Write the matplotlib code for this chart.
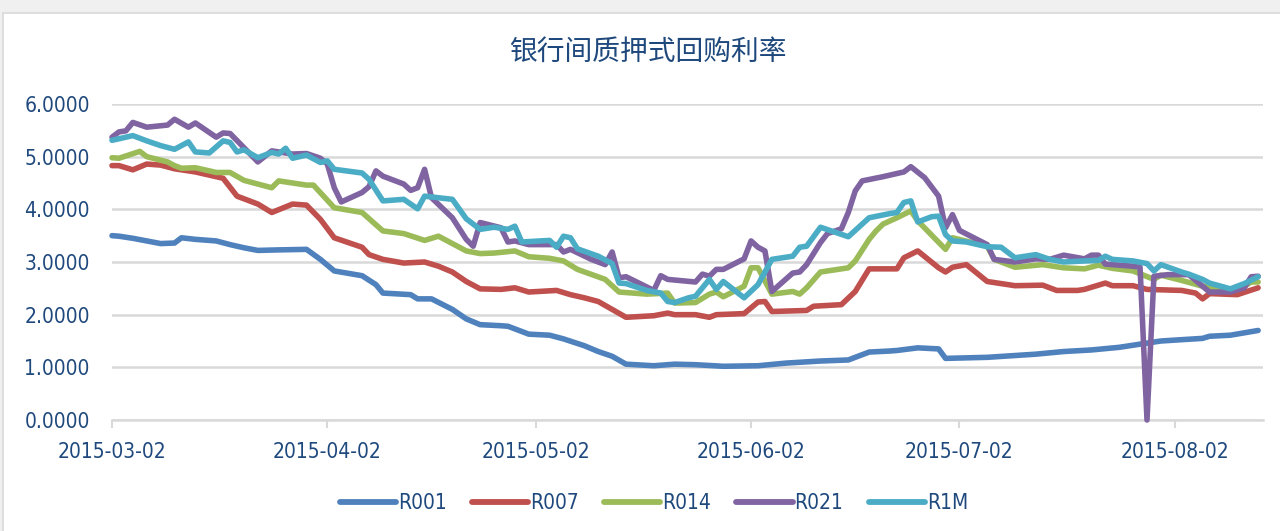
import numpy as np
import pandas as pd
import matplotlib
matplotlib.use("Agg")
import matplotlib.pyplot as plt
import matplotlib.dates as mdates
from matplotlib import font_manager as fm
from matplotlib.patches import Rectangle

# ---------------- data (days counted from 2015-03-02) ----------------
start_date = "2015-03-02"
end_day = 165.7

r001_day = [0, 1, 3, 5, 7, 9, 10, 12, 15, 17, 19, 21, 24, 28, 30, 32, 36, 38, 39, 43, 44, 46,
            49, 51, 53, 56, 57, 58, 60, 63, 65, 68, 70, 72, 74, 78, 81, 84, 88, 93, 97, 102,
            106, 107, 109, 112, 113, 116, 119, 120, 126, 133, 137, 141, 145, 149, 151, 157,
            158, 161, 165]
r001_val = [3.50, 3.49, 3.45, 3.40, 3.35, 3.36, 3.46, 3.43, 3.40, 3.33, 3.27, 3.22, 3.23, 3.24,
            3.05, 2.83, 2.74, 2.57, 2.41, 2.38, 2.30, 2.30, 2.10, 1.92, 1.81, 1.79, 1.78, 1.73,
            1.63, 1.61, 1.54, 1.41, 1.30, 1.21, 1.06, 1.03, 1.06, 1.05, 1.02, 1.03, 1.08, 1.12,
            1.14, 1.19, 1.29, 1.31, 1.32, 1.37, 1.35, 1.17, 1.19, 1.25, 1.30, 1.33, 1.38, 1.46,
            1.50, 1.55, 1.59, 1.61, 1.70]

r007_day = [0, 1, 3, 5, 7, 9, 12, 16, 18, 21, 23, 26, 28, 30, 32, 36, 37, 39, 42, 45, 47, 49,
            51, 53, 56, 58, 60, 64, 66, 68, 70, 72, 74, 78, 80, 81, 84, 86, 87, 91, 93, 94, 95,
            100, 101, 105, 107, 109, 111, 113, 114, 116, 119, 120, 121, 123, 126, 130, 134,
            136, 139, 140, 143, 144, 147, 149, 154, 156, 157, 158, 162, 165]
r007_val = [4.83, 4.83, 4.75, 4.86, 4.84, 4.77, 4.71, 4.59, 4.25, 4.10, 3.94, 4.10, 4.08, 3.81,
            3.46, 3.28, 3.14, 3.05, 2.98, 3.00, 2.92, 2.81, 2.63, 2.49, 2.48, 2.51, 2.43, 2.46,
            2.38, 2.32, 2.25, 2.10, 1.95, 1.98, 2.03, 2.00, 2.00, 1.95, 2.00, 2.02, 2.24, 2.25,
            2.06, 2.08, 2.16, 2.19, 2.44, 2.87, 2.87, 2.87, 3.08, 3.21, 2.89, 2.81, 2.90, 2.95,
            2.63, 2.55, 2.56, 2.46, 2.46, 2.48, 2.60, 2.55, 2.55, 2.48, 2.46, 2.41, 2.30, 2.40,
            2.38, 2.51]

r014_day = [0, 1, 4, 5, 8, 9, 10, 12, 15, 17, 19, 23, 24, 28, 29, 32, 36, 39, 42, 45, 47, 51,
            53, 55, 58, 60, 63, 65, 67, 71, 73, 77, 80, 81, 84, 86, 87, 88, 91, 92, 93, 95, 98,
            99, 100, 102, 106, 107, 109, 110, 111, 113, 115, 116, 120, 121, 126, 127, 130, 134,
            137, 140, 142, 144, 147, 150, 151, 154, 157, 161, 163, 164, 165]
r014_val = [4.98, 4.97, 5.10, 5.00, 4.90, 4.83, 4.78, 4.79, 4.70, 4.70, 4.55, 4.41, 4.54, 4.46,
            4.46, 4.03, 3.94, 3.59, 3.54, 3.41, 3.49, 3.21, 3.16, 3.17, 3.21, 3.10, 3.07, 3.02,
            2.86, 2.67, 2.43, 2.39, 2.41, 2.22, 2.23, 2.39, 2.43, 2.34, 2.54, 2.89, 2.89, 2.39,
            2.44, 2.39, 2.51, 2.81, 2.89, 3.02, 3.43, 3.59, 3.72, 3.84, 3.97, 3.78, 3.24, 3.46,
            3.30, 3.05, 2.90, 2.95, 2.89, 2.87, 2.94, 2.88, 2.83, 2.67, 2.75, 2.65, 2.54, 2.48,
            2.54, 2.62, 2.62]

r021_day = [0, 1, 2, 3, 5, 8, 9, 11, 12, 15, 16, 17, 21, 23, 26, 28, 30, 31, 32, 33, 36, 37,
            38, 39, 42, 43, 44, 45, 46, 49, 51, 52, 53, 56, 57, 58, 60, 64, 65, 66, 69, 71, 72,
            73, 74, 78, 79, 80, 84, 85, 86, 87, 88, 91, 92, 93, 94, 95, 98, 99, 100, 102, 103,
            105, 106, 107, 108, 111, 114, 115, 117, 119, 120, 121, 122, 126, 127, 130, 133,
            135, 137, 140, 141, 142, 143, 147, 148, 149, 150, 152, 155, 157, 158, 161, 163,
            164, 165]
r021_val = [5.37, 5.47, 5.49, 5.65, 5.56, 5.60, 5.71, 5.56, 5.64, 5.37, 5.45, 5.44, 4.90, 5.11,
            5.05, 5.06, 4.97, 4.86, 4.41, 4.14, 4.32, 4.43, 4.73, 4.63, 4.48, 4.36, 4.41, 4.76,
            4.22, 3.84, 3.43, 3.30, 3.75, 3.65, 3.38, 3.40, 3.33, 3.33, 3.19, 3.24, 3.05, 2.95,
            3.19, 2.70, 2.72, 2.46, 2.74, 2.67, 2.62, 2.77, 2.73, 2.86, 2.86, 3.06, 3.40, 3.28,
            3.21, 2.44, 2.79, 2.81, 2.95, 3.37, 3.54, 3.63, 3.94, 4.35, 4.54, 4.62, 4.71, 4.81,
            4.60, 4.25, 3.65, 3.90, 3.60, 3.33, 3.05, 3.00, 3.06, 3.05, 3.13, 3.06, 3.13, 3.13,
            2.96, 2.92, 2.90, 0.00, 2.73, 2.76, 2.76, 2.54, 2.43, 2.43, 2.51, 2.72, 2.73]

r1m_day = [0, 3, 5, 7, 9, 11, 12, 14, 16, 17, 18, 19, 21, 23, 24, 25, 26, 28, 30, 31, 32, 36,
           37, 39, 42, 44, 45, 49, 51, 53, 55, 57, 58, 59, 63, 64, 65, 66, 67, 70, 72, 73, 74,
           77, 79, 80, 81, 83, 84, 86, 87, 88, 91, 93, 95, 98, 99, 100, 102, 106, 109, 112,
           113, 114, 115, 116, 118, 119, 120, 121, 123, 126, 128, 130, 133, 135, 137, 140,
           142, 143, 144, 147, 149, 150, 151, 154, 155, 157, 158, 161, 163, 165]
r1m_val = [5.31, 5.40, 5.30, 5.21, 5.14, 5.28, 5.09, 5.07, 5.30, 5.27, 5.09, 5.13, 4.98, 5.08,
           5.05, 5.16, 4.97, 5.03, 4.89, 4.92, 4.76, 4.69, 4.57, 4.16, 4.19, 4.01, 4.25, 4.19,
           3.82, 3.62, 3.66, 3.62, 3.68, 3.38, 3.41, 3.28, 3.49, 3.46, 3.25, 3.11, 2.97, 2.60,
           2.59, 2.46, 2.41, 2.25, 2.23, 2.32, 2.35, 2.67, 2.48, 2.63, 2.32, 2.57, 3.05, 3.11,
           3.28, 3.30, 3.66, 3.48, 3.84, 3.92, 3.94, 4.13, 4.16, 3.76, 3.86, 3.87, 3.52, 3.40,
           3.38, 3.29, 3.28, 3.08, 3.14, 3.05, 3.00, 3.02, 3.03, 3.11, 3.05, 3.02, 2.97, 2.83,
           2.95, 2.81, 2.77, 2.67, 2.60, 2.49, 2.59, 2.72]

series_names = ["R001", "R007", "R014", "R021", "R1M"]
series_days = [r001_day, r007_day, r014_day, r021_day, r1m_day]
series_vals = [r001_val, r007_val, r014_val, r021_val, r1m_val]
series_colors = ["#4F81BD", "#C0504D", "#9BBB59", "#8064A2", "#4BACC6"]

x_tick_labels = ["2015-03-02", "2015-04-02", "2015-05-02", "2015-06-02", "2015-07-02", "2015-08-02"]
y_ticks = [0, 1, 2, 3, 4, 5, 6]
title = "银行间质押式回购利率"

# ---------------- fonts ----------------
entries = {(f.name, str(f.stretch)) for f in fm.fontManager.ttflist}
if ("DejaVu Sans", "condensed") in entries:
    latin = dict(family="DejaVu Sans", stretch="condensed")
elif any(n == "Liberation Sans Narrow" for n, _ in entries):
    latin = dict(family="Liberation Sans Narrow")
else:
    latin = dict(family="DejaVu Sans")
latin_fp = fm.FontProperties(size=15, **latin)

text_color = "#1F497D"
grid_color = "#D9D9D9"

W, H = 1280, 531
fig = plt.figure(figsize=(W / 100, H / 100), dpi=100)
fig.patch.set_facecolor("#F0F0F0")
fig.add_artist(Rectangle((3 / W, -0.01), 1.0, (H - 13) / H + 0.01, transform=fig.transFigure,
                         facecolor="white", edgecolor=grid_color, lw=1.2, zorder=-10))

ax = fig.add_axes([112 / W, (H - 420) / H, (1263 - 112) / W, (420 - 104) / H])
ax.set_facecolor("none")

base = pd.Timestamp(start_date)
for name, d, v, c in zip(series_names, series_days, series_vals, series_colors):
    dates = base + pd.to_timedelta(np.array(d), unit="D")
    ax.plot(dates, v, color=c, lw=4.0, label=name, solid_joinstyle="round",
            solid_capstyle="round", clip_on=False, zorder=3)

ax.set_ylim(0, 6)
ax.set_xlim(base, base + pd.Timedelta(days=end_day))
ax.set_yticks(y_ticks)
ax.set_yticklabels([f"{t:.4f}" for t in y_ticks], fontproperties=latin_fp, color=text_color)
xt = pd.to_datetime(x_tick_labels)
ax.set_xticks(xt)
ax.set_xticklabels(x_tick_labels, fontproperties=latin_fp, color=text_color)

ax.grid(axis="y", color=grid_color, lw=1.8, zorder=0)
for s in ["top", "right", "left"]:
    ax.spines[s].set_visible(False)
ax.spines["bottom"].set_color(grid_color)
ax.spines["bottom"].set_linewidth(1.8)
ax.tick_params(axis="y", length=0, pad=16)
ax.tick_params(axis="x", length=6, width=1.5, color=grid_color, pad=10)

fig.text(648 / W, 1 - 52 / H, title, ha="center", va="center", fontsize=20,
         color=text_color, family=["Noto Sans CJK SC", "DejaVu Sans"])

leg = fig.legend(*ax.get_legend_handles_labels(), loc="center", ncol=5,
                 bbox_to_anchor=(654 / W, 1 - 503 / H), frameon=False, prop=latin_fp,
                 handlelength=2.7, handletextpad=0.1, columnspacing=1.2)
for t in leg.get_texts():
    t.set_color(text_color)
for l in leg.get_lines():
    l.set_linewidth(4.2)

fig.savefig("out.png", dpi=100, facecolor=fig.get_facecolor())
